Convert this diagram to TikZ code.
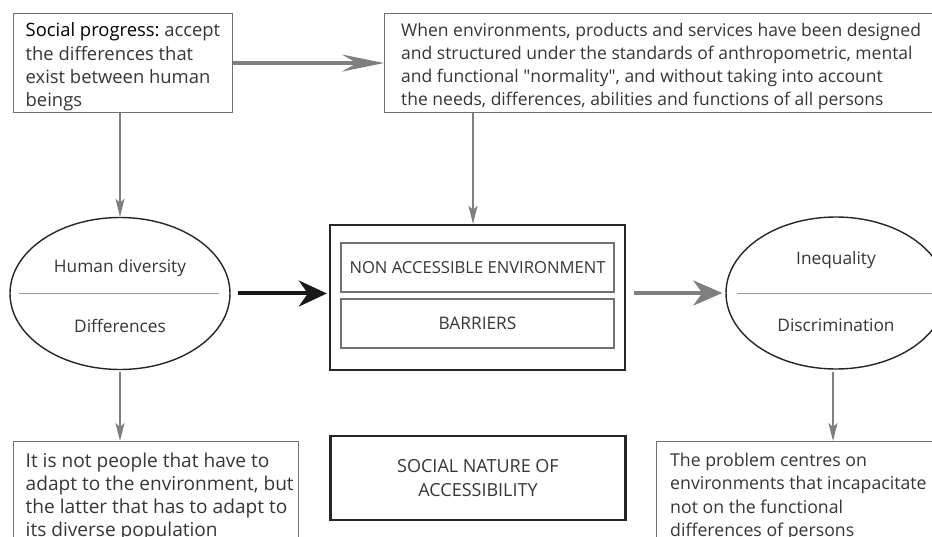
\documentclass[tikz,border=0pt]{standalone}
\usepackage{fontspec}
\setmainfont{Open Sans}
\newfontfamily\qfont{Open Sans}
\usetikzlibrary{shapes.geometric,arrows.meta}
\definecolor{txt}{HTML}{363636}
\definecolor{arr}{HTML}{7F7F7F}
\definecolor{frm}{HTML}{707070}
\begin{document}
\frenchspacing
\begin{tikzpicture}[x=1pt,y=-1pt,
  font=\fontsize{17.3}{23.3}\selectfont, text=txt,
  frame/.style={draw=frm, line width=1.1pt, anchor=north west, inner sep=0pt},
  label/.style={anchor=west, align=left, inner sep=0pt, execute at begin node=\frenchspacing},
  thickbox/.style={draw=black!85, line width=2.3pt, inner sep=0pt},
  innerbox/.style={draw=frm, line width=1.1pt, minimum width=273pt, minimum height=49pt, inner sep=0pt},
  oval/.style={ellipse, draw=black!85, line width=1.4pt, minimum width=220pt, minimum height=152pt, inner sep=0pt},
  divider/.style={draw=black!40, line width=0.8pt},
  grayarrow/.style={draw=arr, line width=3.4pt, -{Stealth[length=42pt,width=17pt,inset=15pt]}},
  midarrow/.style={draw=arr, line width=3.8pt, -{Stealth[length=29pt,width=25pt,inset=9pt]}},
  downarrow/.style={draw=arr, line width=1.8pt, -{Stealth[length=18pt,width=9pt,inset=4pt]}},
  blackarrow/.style={draw=black!90, line width=4pt, -{Stealth[length=28pt,width=26pt,inset=9pt]}},
]
\useasboundingbox (0,0) rectangle (932,537);
\clip (0,0) rectangle (932,537);
\fill[white] (0,0) rectangle (932,537);

% top boxes
\node[frame, minimum width=219pt, minimum height=99pt] (b1) at (12.5,13) {};
\node[label, font=\fontsize{18.4}{23.2}\selectfont] (b1t) at (25.5,67)
  {{\color{black}Social progress:} accept\\the differences that\\exist between human\\beings};
\node[frame, minimum width=570pt, minimum height=99pt] (b2) at (384,13) {};
\node[label, font=\fontsize{17.5}{23.2}\selectfont] (b2t) at (401,66.5)
  {When environments, products and services have been designed\\and structured under the standards of anthropometric, mental\\and functional {\qfont"}normality{\qfont"}, and without taking into account\\the needs, differences, abilities and functions of all persons};

% left ellipse
\node[oval] (hd) at (120,293.5) {};
\draw[divider] ([xshift=10pt]hd.west) -- ([xshift=-12pt]hd.east);
\node (hdt) at (120,268) {Human diversity};
\node (hdb) at (120,326) {Differences};

% central box
\node[thickbox, minimum width=295pt, minimum height=145pt] (big) at (477.5,297.5) {};
\node[innerbox, font=\fontsize{16.6}{20}\selectfont] (nae) at (477.5,267.5) {NON ACCESSIBLE ENVIRONMENT};
\node[innerbox] (bar) at (477.5,323.5) {BARRIERS};

% right ellipse
\node[oval] (ineq) at (836,293) {};
\draw[divider] ([xshift=12pt]ineq.west) -- ([xshift=-10pt]ineq.east);
\node (inqt) at (836,260) {Inequality};
\node (inqb) at (836,325) {Discrimination};

% bottom boxes
\node[frame, minimum width=285.5pt, minimum height=120pt] (b3) at (12.5,441) {};
\node[label, font=\fontsize{19.1}{23.3}\selectfont] (b3t) at (25.5,497)
  {It is not people that have to\\adapt to the environment, but\\the latter that has to adapt to\\its diverse population};
\node[thickbox, minimum width=295pt, minimum height=84pt, align=center, font=\fontsize{18}{24}\selectfont] (soc) at (478,478)
  {SOCIAL NATURE OF\\ACCESSIBILITY};
\node[frame, minimum width=300pt, minimum height=120pt] (b5) at (656,441) {};
\node[label, font=\fontsize{17.7}{23.3}\selectfont] (b5t) at (670,497)
  {The problem centres on\\environments that incapacitate\\not on the functional\\differences of persons};

% connectors
\draw[grayarrow] (b1.east) -- (b2.west);
\draw[downarrow] (b1.south -| hd.north) -- (hd.north);
\draw[downarrow] ([xshift=-4.5pt]big.north |- b2.south) -- ([xshift=-4.5pt]big.north);
\draw[blackarrow, shorten <=7pt, shorten >=2pt] (hd.east) -- (big.west |- hd.east);
\draw[midarrow, shorten <=8pt, shorten >=3pt] (big.east |- ineq.west) -- (ineq.west);
\draw[downarrow, shorten <=2pt] (hd.south) -- (hd.south |- b3.north);
\draw[downarrow, shorten <=2pt] ([xshift=-3pt]ineq.south) -- ([xshift=-3pt]ineq.south |- b5.north);
\end{tikzpicture}
\end{document}
